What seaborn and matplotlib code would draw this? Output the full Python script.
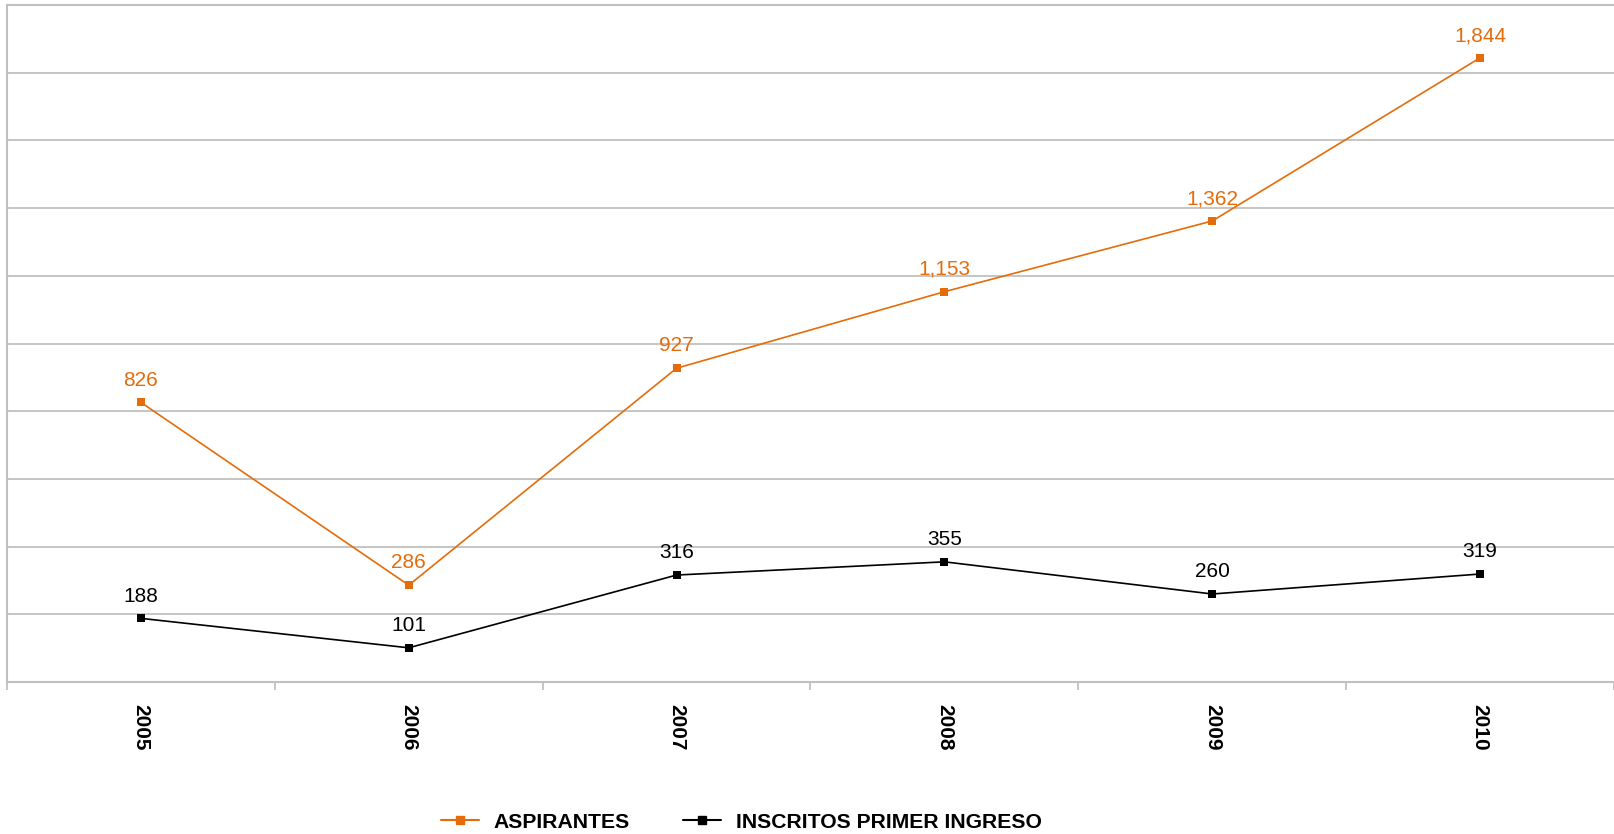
import pandas as pd
import numpy as np
import matplotlib.pyplot as plt
import seaborn as sns

years = ["2005", "2006", "2007", "2008", "2009", "2010"]
aspirantes = [826, 286, 927, 1153, 1362, 1844]
inscritos = [188, 101, 316, 355, 260, 319]
series_names = ["ASPIRANTES", "INSCRITOS PRIMER INGRESO"]
colors = {"ASPIRANTES": "#E46C0A", "INSCRITOS PRIMER INGRESO": "#000000"}

df = pd.DataFrame({
    "pos": list(range(len(years))) * 2,
    "value": aspirantes + inscritos,
    "serie": [series_names[0]] * len(years) + [series_names[1]] * len(years),
})

sns.set_style("white")
plt.rcParams['font.family'] = ['Liberation Sans', 'DejaVu Sans']
plt.rcParams['text.color'] = 'black'
plt.rcParams['xtick.color'] = 'black'

fig = plt.figure(figsize=(16.14, 8.34), dpi=100)
ax = fig.add_axes([7 / 1614, (834 - 682) / 834, 1 - 7 / 1614, (682 - 5) / 834])

sns.lineplot(data=df, x="pos", y="value", hue="serie", palette=colors,
             style="serie", markers={"ASPIRANTES": "s", "INSCRITOS PRIMER INGRESO": "s"},
             dashes=False, markersize=6, linewidth=1.2, markeredgewidth=0,
             ax=ax, legend=False)

# etiquetas de datos
for name, vals in zip(series_names, [aspirantes, inscritos]):
    for i, v in enumerate(vals):
        ax.annotate(f"{v:,}", (i, v), xytext=(0, 16), textcoords="offset points",
                    ha="center", va="center", fontsize=15, color=colors[name])

ax.set_ylim(0, 2000)
ax.set_xlim(-0.5, len(years) - 0.5)
ax.set_yticks(np.arange(0, 2001, 200))
ax.set_yticklabels([])
ax.tick_params(axis="y", length=0)
ax.grid(axis="y", color="#C0C0C0", linewidth=1.3)
ax.set_axisbelow(True)

ax.set_xticks(range(len(years)))
ax.set_xticklabels(years, rotation=-90, fontweight="bold", fontsize=15)
ax.set_xticks(np.arange(-0.5, len(years), 1), minor=True)
ax.tick_params(axis="x", which="major", bottom=True, length=0, pad=16)
ax.tick_params(axis="x", which="minor", bottom=True, length=6, color="#C0C0C0", width=1.3)
ax.set_xlabel("")
ax.set_ylabel("")

for s in ["left", "bottom", "top"]:
    ax.spines[s].set_color("#C0C0C0")
    ax.spines[s].set_linewidth(1.5)
ax.spines["right"].set_visible(False)

handles = [plt.Line2D([], [], color=colors[n], marker="s", markersize=6, linewidth=1.5)
           for n in series_names]
fig.legend(handles, series_names, loc="center left", bbox_to_anchor=(422 / 1614, 12 / 834),
           ncol=2, frameon=False, handlelength=1.8, columnspacing=2.5, handletextpad=0.7,
           prop={"weight": "bold", "size": 15.2})

fig.savefig("out.png", dpi=100)
